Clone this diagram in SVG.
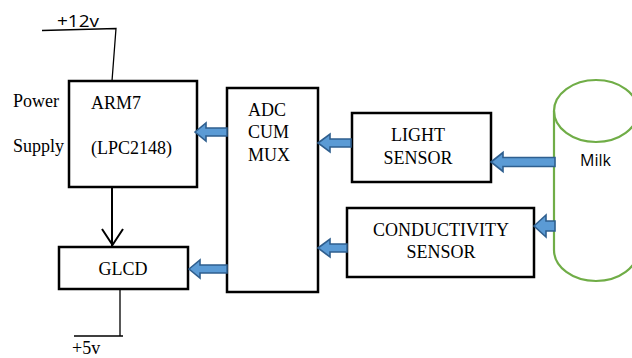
<svg xmlns="http://www.w3.org/2000/svg" width="632" height="358" viewBox="0 0 632 358">
  <style>
    .box { fill: #ffffff; stroke: #000000; stroke-width: 2.5; }
    .wire { fill: none; stroke: #000000; stroke-width: 1.3; }
    .serif { font-family: "Liberation Serif", "Times New Roman", serif; font-size: 18px; fill: #000000; }
    .sans { font-family: "Open Sans", "Liberation Sans", Arial, sans-serif; font-size: 16px; fill: #000000; }
    .barrow { fill: #5B9BD5; stroke: #2F5F8F; stroke-width: 1.6; stroke-linejoin: miter; }
    .tank { fill: none; stroke: #70AD47; stroke-width: 2.2; }
  </style>
  <rect width="632" height="358" fill="#ffffff"/>

  <!-- supply rails -->
  <g id="rail-12v">
    <path class="wire" d="M42 30.5 L116 28.5 L112 81"/>
    <text class="sans" x="57" y="27" font-size="19" textLength="42" lengthAdjust="spacingAndGlyphs">+12v</text>
  </g>
  <g id="rail-5v">
    <path class="wire" d="M120 289 L120 336 M74 336 L123 336"/>
    <text class="serif" x="72" y="354">+5v</text>
  </g>

  <!-- processor -->
  <g id="arm7">
    <rect class="box" x="69" y="81" width="128" height="106"/>
    <text class="serif" x="91" y="109">ARM7</text>
    <text class="serif" x="91" y="154">(LPC2148)</text>
  </g>
  <g id="power-label">
    <text class="serif" x="13" y="107">Power</text>
    <text class="serif" x="13" y="152">Supply</text>
  </g>

  <!-- display -->
  <g id="glcd">
    <rect class="box" x="59" y="247" width="129" height="42"/>
    <text class="serif" x="123" y="275" text-anchor="middle">GLCD</text>
  </g>

  <!-- converter / multiplexer -->
  <g id="adc">
    <rect class="box" x="227" y="88" width="91" height="204"/>
    <text class="serif" x="248" y="116">ADC</text>
    <text class="serif" x="248" y="138">CUM</text>
    <text class="serif" x="248" y="161">MUX</text>
  </g>

  <!-- sensors -->
  <g id="light-sensor">
    <rect class="box" x="352" y="113" width="139" height="69"/>
    <text class="serif" x="418" y="141" text-anchor="middle">LIGHT</text>
    <text class="serif" x="418" y="164" text-anchor="middle">SENSOR</text>
  </g>
  <g id="conductivity-sensor">
    <rect class="box" x="347" y="208" width="187" height="69"/>
    <text class="serif" x="441" y="236" text-anchor="middle">CONDUCTIVITY</text>
    <text class="serif" x="441" y="258" text-anchor="middle">SENSOR</text>
  </g>

  <!-- milk container -->
  <g id="milk">
    <ellipse class="tank" cx="596" cy="111" rx="42" ry="31"/>
    <path class="tank" d="M554 111 L554 250 A42 31 0 0 0 638 250"/>
    <text class="sans" x="580" y="166">Milk</text>
  </g>

  <!-- connectors -->
  <g id="connectors">
    <path d="M112 187 L112 246" fill="none" stroke="#000" stroke-width="2"/>
    <path d="M102 229 L112.5 245 L123 229" fill="none" stroke="#000" stroke-width="2"/>
    <polygon class="barrow" points="195,132 206,123 206,128 227,128 227,136 206,136 206,141"/>
    <polygon class="barrow" points="318,143 330,134 330,139 351,139 351,147 330,147 330,152"/>
    <polygon class="barrow" points="318,248 330,239 330,244 347,244 347,252 330,252 330,257"/>
    <polygon class="barrow" points="189,269 200,260 200,265 227,265 227,273 200,273 200,278"/>
    <polygon class="barrow" points="491,162 503,152.5 503,157.5 555,157.5 555,166.5 503,166.5 503,171.5"/>
    <polygon class="barrow" points="534,226 546,215 546,221 555,221 555,231 546,231 546,237"/>
  </g>
</svg>
